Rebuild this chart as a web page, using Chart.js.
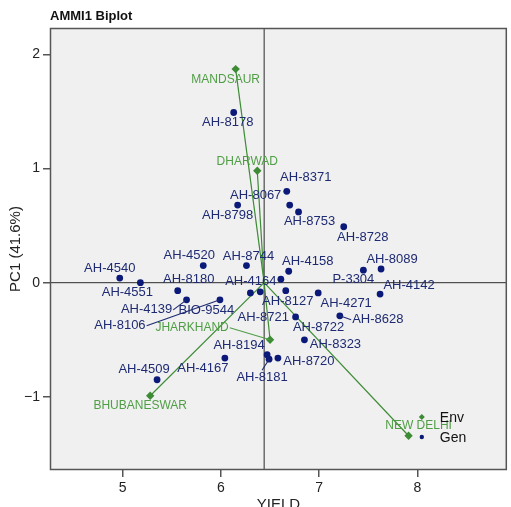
<!DOCTYPE html>
<html><head><meta charset="utf-8">
<script src="https://cdn.jsdelivr.net/npm/chart.js@4.4.0/dist/chart.umd.min.js"></script>
<style>html,body{margin:0;padding:0;background:#fff;overflow:hidden}canvas{display:block}</style>
</head><body>
<canvas id="c" width="511" height="507"></canvas>
<script>
// ---- data ----
const genotypes = ['AH-8178','AH-8371','AH-8067','AH-8798','AH-8753','AH-8728','AH-4540','AH-4520','AH-8744','AH-4158',
  'AH-8089','P-3304','AH-4142','AH-4551','AH-8180','AH-4164','AH-8127','AH-4271','AH-4139','AH-8106',
  'BIO-9544','AH-8721','AH-8722','AH-8628','AH-8323','AH-8194','AH-8181','AH-8720','AH-4167','AH-4509'];
const genYield = [6.13,6.67,6.70,6.17,6.79,7.25,4.97,5.82,6.26,6.69,
  7.63,7.45,7.62,5.18,5.56,6.61,6.66,6.99,5.65,5.99,
  6.30,6.40,6.76,7.21,6.85,6.47,6.49,6.58,6.04,5.35];
const genPC1 = [1.49,0.80,0.68,0.68,0.62,0.49,0.04,0.15,0.15,0.10,
  0.12,0.11,-0.10,0.00,-0.07,0.03,-0.07,-0.09,-0.15,-0.15,
  -0.09,-0.08,-0.30,-0.29,-0.50,-0.63,-0.67,-0.66,-0.66,-0.85];
const environments = ['MANDSAUR','DHARWAD','JHARKHAND','BHUBANESWAR','NEW DELHI'];
const envYield = [6.15,6.37,6.50,5.28,7.91];
const envPC1 = [1.87,0.98,-0.50,-0.99,-1.34];
const meanYield = 6.44;
const xTicks = [5,6,7,8];
const yTicks = [-1,0,1,2];
const xMin = 4.26, xMax = 8.91, yMin = -1.64, yMax = 2.23;

// ---- label placement (style) ----
const genLabelOffset = [[-6,10],[19,-14],[-34,-10],[-10,10],[11,10],[19,11],[-10,-10],[-14,-10],[2,-9],[19,-10],
  [11,-10],[-10,9],[29,-9],[-13,10],[11,-11],[-30,2],[2,11],[28,10],[-40,10],[-100,26],
  [-44,17],[3,26],[23,10],[38,4],[31,5],[-28,-9],[-7,18],[31,3],[-22,10],[-13,-10]];
const genLeader = new Set(['AH-4139','AH-8106','AH-8628','AH-8181']);
const envLabelOffset = [[-10,11],[-10,-9],[-78,-12],[-10,10],[10,-10]];
const envLeader = new Set(['JHARKHAND']);

const GEN_COL = '#0b1a78', GEN_TXT = '#1e2a72', ENV_COL = '#3d8b35', ENV_TXT = '#4f9e45';
const FONT = "'Liberation Sans', Arial, sans-serif";

const datasets = [];
datasets.push({label:'Gen', data: genotypes.map((g,i)=>({x:genYield[i], y:genPC1[i]})),
  pointStyle:'circle', pointRadius:3.4, backgroundColor:GEN_COL, borderColor:GEN_COL, borderWidth:0, order:1});
datasets.push({label:'Env', data: environments.map((e,i)=>({x:envYield[i], y:envPC1[i]})),
  pointStyle:'rectRot', pointRadius:4.2, backgroundColor:ENV_COL, borderColor:ENV_COL, borderWidth:0, order:0});
environments.forEach((e,i)=>{
  datasets.push({label:'vec '+e, data:[{x:meanYield,y:0},{x:envYield[i],y:envPC1[i]}], showLine:true,
    pointRadius:0, borderColor:ENV_COL, borderWidth:1.2, order:2});
});
datasets.push({label:'h0', data:[{x:xMin,y:0},{x:xMax,y:0}], showLine:true, pointRadius:0, borderColor:'#2a2a2a', borderWidth:1, order:3});
datasets.push({label:'vmean', data:[{x:meanYield,y:yMin},{x:meanYield,y:yMax}], showLine:true, pointRadius:0, borderColor:'#2a2a2a', borderWidth:1, order:3});

function drawLabel(ctx, text, px, py, off, leader, color, size){
  ctx.font = size+'px '+FONT;
  ctx.fillStyle = color; ctx.textAlign='center'; ctx.textBaseline='middle';
  const cx = px+off[0], cy = py+off[1];
  ctx.fillText(text, cx, cy);
  if (leader){
    const w = ctx.measureText(text).width;
    let lx, ly;
    if (Math.abs(off[0]) > w/2){ lx = off[0] < 0 ? cx + w/2 + 1 : cx - w/2 - 1; ly = cy; }
    else { lx = cx; ly = off[1] > 0 ? cy - 7 : cy + 7; }
    ctx.strokeStyle = color; ctx.lineWidth = 1.1;
    ctx.beginPath(); ctx.moveTo(lx,ly); ctx.lineTo(px,py); ctx.stroke();
  }
}

const deco = {
  id:'deco',
  beforeDraw(chart){
    const {ctx, chartArea:a} = chart;
    ctx.save(); ctx.fillStyle='#f0f0f0'; ctx.fillRect(a.left,a.top,a.right-a.left,a.bottom-a.top); ctx.restore();
  },
  afterDatasetsDraw(chart){
    const {ctx, scales:{x,y}} = chart;
    ctx.save();
    genotypes.forEach((g,i)=>{
      drawLabel(ctx, g, x.getPixelForValue(genYield[i]), y.getPixelForValue(genPC1[i]), genLabelOffset[i], genLeader.has(g), GEN_TXT, 13);
    });
    environments.forEach((e,i)=>{
      drawLabel(ctx, e, x.getPixelForValue(envYield[i]), y.getPixelForValue(envPC1[i]), envLabelOffset[i], envLeader.has(e), ENV_TXT, 12);
    });
    ctx.restore();
  },
  afterDraw(chart){
    const {ctx, chartArea:a} = chart;
    ctx.save();
    ctx.strokeStyle='#555'; ctx.lineWidth=1.5;
    ctx.strokeRect(a.left+0.5, a.top+0.5, a.right-a.left-1, a.bottom-a.top-1);
    // title
    ctx.fillStyle='#111'; ctx.font='bold 13px '+FONT; ctx.textAlign='left'; ctx.textBaseline='middle';
    ctx.fillText('AMMI1 Biplot', a.left, 16);
    // legend
    const lx = a.right-85, ly1 = a.bottom-53, ly2 = a.bottom-33;
    ctx.fillStyle=ENV_COL; ctx.beginPath();
    ctx.moveTo(lx,ly1-3); ctx.lineTo(lx+3,ly1); ctx.lineTo(lx,ly1+3); ctx.lineTo(lx-3,ly1); ctx.closePath(); ctx.fill();
    ctx.fillStyle=GEN_COL; ctx.beginPath(); ctx.arc(lx,ly2,2.2,0,Math.PI*2); ctx.fill();
    ctx.fillStyle='#111'; ctx.font='14px '+FONT;
    ctx.fillText('Env', lx+18, ly1+1); ctx.fillText('Gen', lx+18, ly2+1);
    ctx.restore();
  }
};

const fmt = v => (v<0 ? '\u2212'+Math.abs(v) : String(v));

new Chart(document.getElementById('c'), {
  type:'scatter',
  data:{datasets},
  options:{
    responsive:false, animation:false, devicePixelRatio:1,
    layout:{padding:{top:28,right:-3,left:0,bottom:0}},
    plugins:{legend:{display:false}, tooltip:{enabled:false}, title:{display:false}},
    scales:{
      x:{type:'linear', min:xMin, max:xMax,
        afterBuildTicks:s=>{s.ticks = xTicks.map(v=>({value:v}));},
        afterFit:s=>{s.height=37; s.paddingLeft=0; s.paddingRight=0;},
        grid:{drawOnChartArea:false, drawTicks:true, tickLength:7, color:'#555', lineWidth:1.5},
        border:{display:false},
        ticks:{padding:3, color:'#222', font:{family:FONT, size:14}, callback:fmt, maxRotation:0, autoSkip:false},
        title:{display:true, text:'YIELD', color:'#222', font:{family:FONT, size:15}, padding:{top:0,bottom:-7}}
      },
      y:{type:'linear', min:yMin, max:yMax,
        afterBuildTicks:s=>{s.ticks = yTicks.map(v=>({value:v}));},
        afterFit:s=>{s.width=50; s.paddingTop=0; s.paddingBottom=0;},
        grid:{drawOnChartArea:false, drawTicks:true, tickLength:7, color:'#555', lineWidth:1.5},
        border:{display:false},
        ticks:{padding:3, color:'#222', font:{family:FONT, size:14}, callback:fmt, autoSkip:false},
        title:{display:true, text:'PC1 (41.6%)', color:'#222', font:{family:FONT, size:15}, padding:{top:7,bottom:0}}
      }
    }
  },
  plugins:[deco]
});
</script>
</body></html>
